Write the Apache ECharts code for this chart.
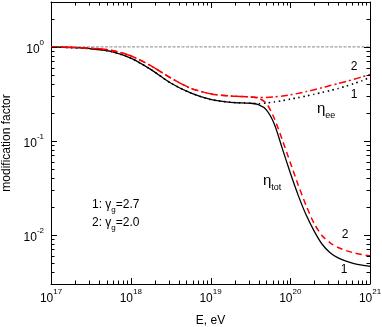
<!DOCTYPE html>
<html>
<head>
<meta charset="utf-8">
<script src="https://cdn.jsdelivr.net/npm/echarts@6/dist/echarts.min.js"></script>
<style>
  html, body { margin: 0; padding: 0; background: #fff; }
  #chart { width: 382px; height: 327px; }
</style>
</head>
<body>
<div id="chart"></div>
<script>
// energy grid, log10(E / eV)
var energyExp = [17.0, 17.25, 17.5, 17.75, 18.0, 18.25, 18.5, 18.75, 19.0, 19.25, 19.5,
  19.6, 19.7, 19.8, 19.9, 20.0, 20.1, 20.2, 20.3, 20.4, 20.5, 20.6, 20.7, 20.8, 20.9, 21.0];

// log10 of the modification factor
// eta_tot, gamma_g = 2.7 (1, solid black)
var etaTot27 = [0.0, -0.008, -0.02, -0.048, -0.12, -0.24, -0.385, -0.49, -0.56, -0.59, -0.60,
  -0.615, -0.67, -0.82, -1.08, -1.34, -1.58, -1.79, -1.96, -2.10, -2.19, -2.245, -2.28, -2.305, -2.322, -2.335];
// eta_tot, gamma_g = 2.0 (2, dashed red)
var etaTot20 = [0.0, -0.005, -0.015, -0.035, -0.095, -0.20, -0.33, -0.44, -0.50, -0.523, -0.533,
  -0.545, -0.60, -0.76, -0.99, -1.23, -1.47, -1.69, -1.88, -2.01, -2.085, -2.135, -2.168, -2.192, -2.21, -2.222];
// eta_ee, gamma_g = 2.7 (1, dotted black)
var etaEe27 = [0.0, -0.008, -0.02, -0.048, -0.12, -0.24, -0.385, -0.49, -0.56, -0.59, -0.60,
  -0.605, -0.598, -0.586, -0.572, -0.556, -0.54, -0.523, -0.505, -0.485, -0.465, -0.443, -0.418, -0.39, -0.36, -0.325];
// eta_ee, gamma_g = 2.0 (2, dash-dot red)
var etaEe20 = [0.0, -0.005, -0.015, -0.035, -0.095, -0.20, -0.33, -0.44, -0.50, -0.523, -0.533,
  -0.54, -0.538, -0.532, -0.523, -0.51, -0.495, -0.476, -0.456, -0.435, -0.412, -0.39, -0.368, -0.345, -0.32, -0.295];
// reference level eta = 1
var unityLine = [[17, 0], [21, 0]];

var xTickExp = [17, 18, 19, 20, 21];
var yTickExp = [-2, -1, 0];
var yMin = Math.log10(0.003);
var yMax = Math.log10(3);

function pairs(ys) {
  return energyExp.map(function (x, i) { return [x, ys[i]]; });
}

function minorTicks(lo, hi) {
  var out = [];
  for (var d = Math.floor(lo); d < hi; d++) {
    for (var k = 2; k <= 9; k++) {
      var v = d + Math.log10(k);
      if (v > lo + 1e-6 && v < hi - 1e-6) out.push(v);
    }
  }
  return out;
}

var FONT = 'Liberation Sans, Arial, sans-serif';
var powRich = {
  b: { fontSize: 12, fontFamily: FONT, color: '#000', padding: [5, 0, 0, 0] },
  s: { fontSize: 8, fontFamily: FONT, color: '#000', verticalAlign: 'top' }
};
function powLabel(v) {
  return '{b|10}{s|' + v + '}';
}

var chart = echarts.init(document.getElementById('chart'), null, { renderer: 'canvas' });

// one axis per side; tick marks drawn by the 'ticks' custom series below
function xAx(pos, label) {
  return {
    type: 'value', position: pos, min: 17, max: 21, interval: 1,
    axisLine: { show: true, onZero: false, lineStyle: { color: '#000', width: 1 } },
    axisTick: { show: false },
    axisLabel: label ? {
      show: true, margin: 4, formatter: powLabel, rich: powRich, customValues: xTickExp
    } : { show: false },
    splitLine: { show: false },
    name: label ? 'E, eV' : '',
    nameLocation: 'middle', nameGap: 31,
    nameTextStyle: { fontSize: 12, fontFamily: FONT, color: '#000' }
  };
}

function yAx(pos, label) {
  return {
    type: 'value', position: pos, min: yMin, max: yMax,
    axisLine: { show: true, onZero: false, lineStyle: { color: '#000', width: 1 } },
    axisTick: { show: false },
    axisLabel: label ? {
      show: true, margin: 7, formatter: powLabel, rich: powRich, customValues: yTickExp
    } : { show: false },
    splitLine: { show: false },
    name: label ? 'modification factor' : '',
    nameLocation: 'middle', nameGap: 26, nameRotate: 90,
    nameTextStyle: { fontSize: 12, fontFamily: FONT, color: '#000' }
  };
}

// tick list: [value, isXAxis (1/0), isMajor (1/0)]
var tickList = [];
xTickExp.forEach(function (v) { tickList.push([v, 1, 1]); });
minorTicks(17, 21).forEach(function (v) { tickList.push([v, 1, 0]); });
yTickExp.forEach(function (v) { tickList.push([v, 0, 1]); });
minorTicks(yMin, yMax).forEach(function (v) { tickList.push([v, 0, 0]); });

function renderTick(params, api) {
  var v = api.value(0), isX = api.value(1), major = api.value(2);
  var len = major ? 6 : 3.5;
  var cs = params.coordSys;
  var style = { stroke: '#000', lineWidth: 1 };
  var p, lines;
  if (isX) {
    p = api.coord([v, yMin]);
    var xx = Math.round(p[0]) + 0.5;
    lines = [
      [xx, cs.y + cs.height, xx, cs.y + cs.height - len],
      [xx, cs.y, xx, cs.y + len]
    ];
  } else {
    p = api.coord([17, v]);
    var yy = Math.round(p[1]) + 0.5;
    lines = [
      [cs.x, yy, cs.x + len, yy],
      [cs.x + cs.width, yy, cs.x + cs.width - len, yy]
    ];
  }
  return {
    type: 'group',
    children: lines.map(function (l) {
      return { type: 'line', shape: { x1: l[0], y1: l[1], x2: l[2], y2: l[3] }, style: style };
    })
  };
}

var option = {
  animation: false,
  backgroundColor: '#fff',
  grid: { left: 51, right: 12, top: 2, bottom: 43, outerBoundsMode: 'none' },
  xAxis: [xAx('bottom', true), xAx('top', false)],
  yAxis: [yAx('left', true), yAx('right', false)],
  series: [
    {
      name: 'ticks', type: 'custom', data: tickList, renderItem: renderTick,
      clip: false, silent: true, z: 5, encode: { x: 0, y: -1 }
    },
    {
      name: 'unity', type: 'line', data: unityLine, symbol: 'none',
      lineStyle: { color: '#a0a0a0', width: 1.2, type: [3, 1.5] }
    },
    {
      name: 'ee 2.7', type: 'line', data: pairs(etaEe27), symbol: 'none', smooth: 0.25,
      lineStyle: { color: '#000', width: 1.6, type: [1.5, 3.5] }
    },
    {
      name: 'tot 2.7', type: 'line', data: pairs(etaTot27), symbol: 'none', smooth: 0.25,
      lineStyle: { color: '#000', width: 1.3 }
    },
    {
      name: 'ee 2.0', type: 'line', data: pairs(etaEe20), symbol: 'none', smooth: 0.25,
      lineStyle: { color: '#ff0000', width: 1.5, type: [7, 3, 2, 3] }
    },
    {
      name: 'tot 2.0', type: 'line', data: pairs(etaTot20), symbol: 'none', smooth: 0.25,
      lineStyle: { color: '#ff0000', width: 1.5, type: [6, 4] }
    }
  ],
  graphic: [
    { type: 'text', x: 354, y: 67, style: { text: '2', font: '12px ' + FONT, fill: '#000', align: 'center', verticalAlign: 'middle' } },
    { type: 'text', x: 354, y: 95, style: { text: '1', font: '12px ' + FONT, fill: '#000', align: 'center', verticalAlign: 'middle' } },
    { type: 'text', x: 345, y: 235, style: { text: '2', font: '12px ' + FONT, fill: '#000', align: 'center', verticalAlign: 'middle' } },
    { type: 'text', x: 344, y: 270, style: { text: '1', font: '12px ' + FONT, fill: '#000', align: 'center', verticalAlign: 'middle' } },
    {
      type: 'text', x: 317, y: 111,
      style: {
        text: '{g|η}{u|ee}', verticalAlign: 'middle',
        rich: {
          g: { fontSize: 15, fontFamily: FONT, fill: '#000', padding: [0, 0, 4, 0] },
          u: { fontSize: 9, fontFamily: FONT, fill: '#000', verticalAlign: 'bottom' }
        }
      }
    },
    {
      type: 'text', x: 263, y: 183,
      style: {
        text: '{g|η}{u|tot}', verticalAlign: 'middle',
        rich: {
          g: { fontSize: 15, fontFamily: FONT, fill: '#000', padding: [0, 0, 4, 0] },
          u: { fontSize: 9, fontFamily: FONT, fill: '#000', verticalAlign: 'bottom' }
        }
      }
    },
    {
      type: 'text', x: 92, y: 206,
      style: {
        text: '{n|1: γ}{u|g}{n|=2.7}', verticalAlign: 'middle',
        rich: {
          n: { fontSize: 12, fontFamily: FONT, fill: '#000', padding: [0, 0, 3, 0] },
          u: { fontSize: 8, fontFamily: FONT, fill: '#000', verticalAlign: 'bottom' }
        }
      }
    },
    {
      type: 'text', x: 92, y: 224,
      style: {
        text: '{n|2: γ}{u|g}{n|=2.0}', verticalAlign: 'middle',
        rich: {
          n: { fontSize: 12, fontFamily: FONT, fill: '#000', padding: [0, 0, 3, 0] },
          u: { fontSize: 8, fontFamily: FONT, fill: '#000', verticalAlign: 'bottom' }
        }
      }
    }
  ]
};

chart.setOption(option);
</script>
</body>
</html>
